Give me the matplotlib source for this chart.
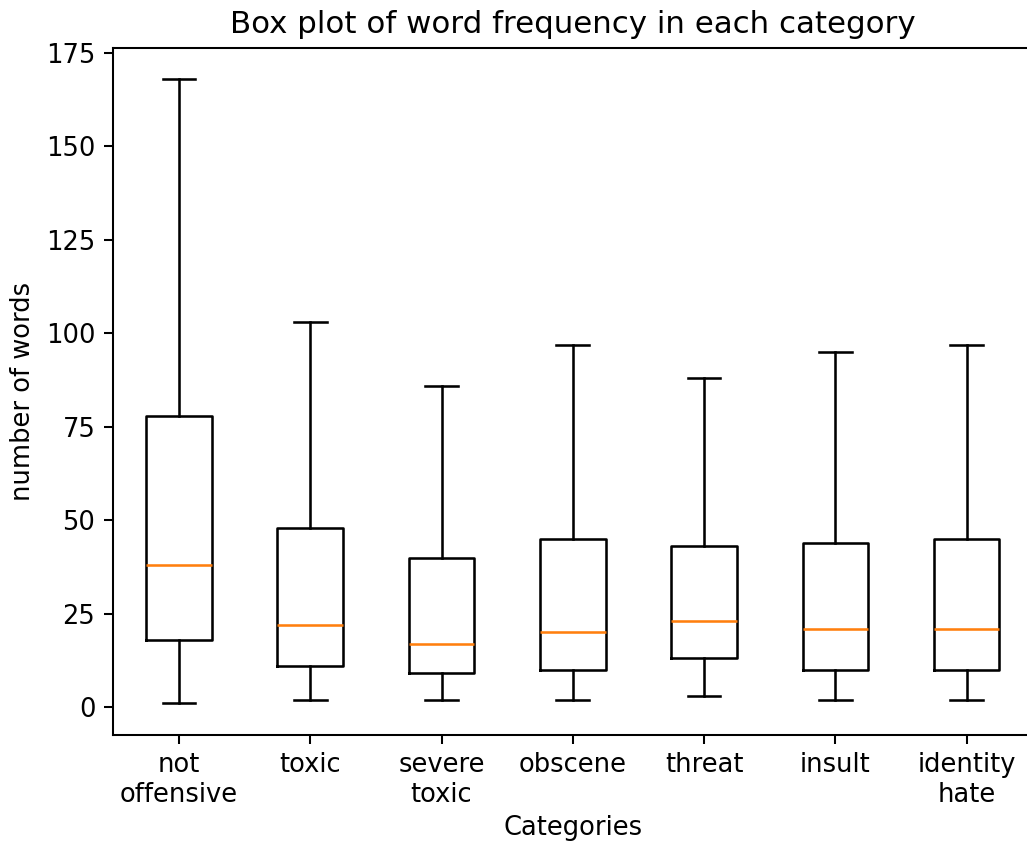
import matplotlib
matplotlib.use("Agg")
import matplotlib.pyplot as plt

categories = ["not\noffensive", "toxic", "severe\ntoxic", "obscene", "threat", "insult", "identity\nhate"]
whisker_low = [1, 2, 2, 2, 3, 2, 2]
q1 = [18, 11, 9, 10, 13, 10, 10]
median = [38, 22, 17, 20, 23, 21, 21]
q3 = [78, 48, 40, 45, 43, 44, 45]
whisker_high = [168, 103, 86, 97, 88, 95, 97]

stats = []
for lab, lo, a, m, b, hi in zip(categories, whisker_low, q1, median, q3, whisker_high):
    stats.append({"label": lab, "whislo": lo, "q1": a, "med": m, "q3": b,
                  "whishi": hi, "fliers": []})

W, H, DPI = 1027, 843, 185
fig = plt.figure(figsize=(W / DPI, H / DPI), dpi=DPI)
ax = fig.add_axes([113.3 / W, (H - 734.5) / H, 919 / W, 686.5 / H])
ax.bxp(stats, showfliers=False)
ax.set_title("Box plot of word frequency in each category")
ax.set_xlabel("Categories", labelpad=2.5)
ax.set_ylabel("number of words")
fig.savefig("out.png", dpi=DPI)
